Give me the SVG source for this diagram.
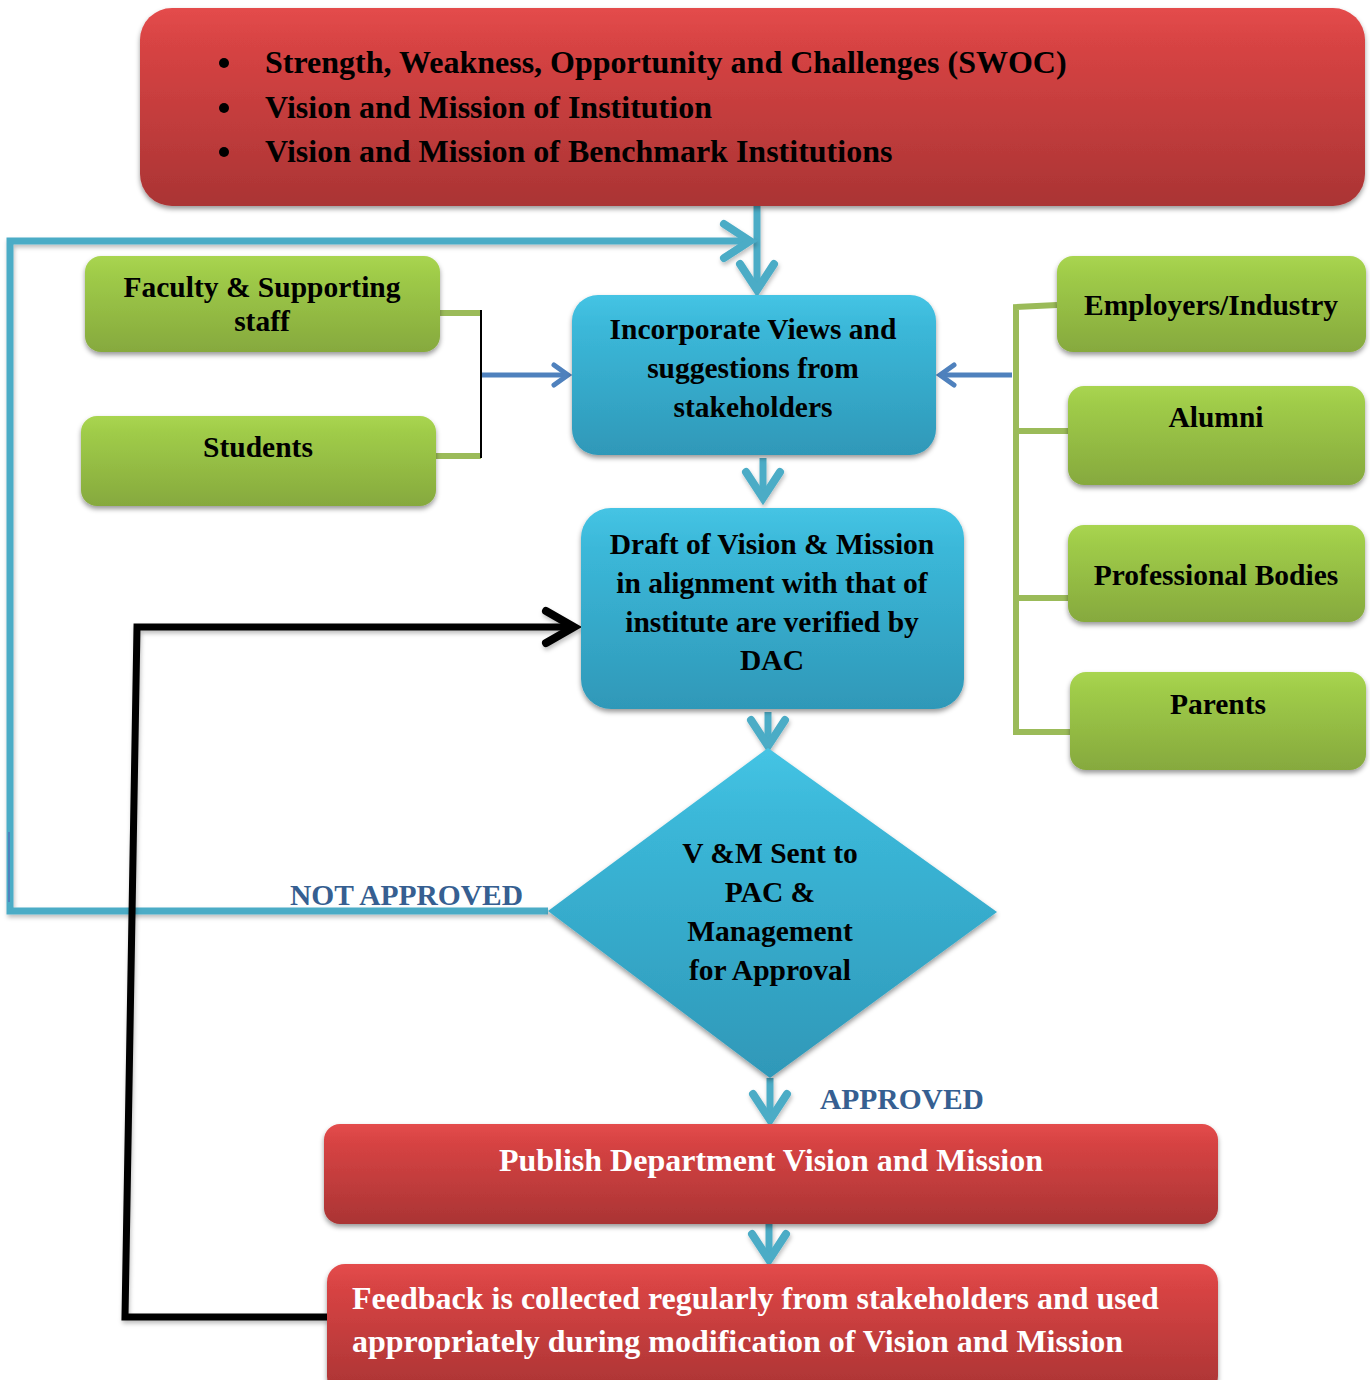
<svg xmlns="http://www.w3.org/2000/svg" width="1370" height="1380" viewBox="0 0 1370 1380">
<style>
.t{font-family:"Liberation Serif","Times New Roman",serif;font-weight:bold;fill:#000}
.w{fill:#fff}
.lbl{font-family:"Liberation Serif","Times New Roman",serif;font-weight:bold;fill:#365f91;font-size:29.5px}
.red{fill:url(#gRed);filter:url(#sh)}
.grn{fill:url(#gGrn);filter:url(#sh)}
.cyn{fill:url(#gCyn);filter:url(#sh)}
.cl{fill:none;stroke:#4bacc6;stroke-width:7;filter:url(#lsh)}
.gl{fill:none;stroke:#9bbb59;stroke-width:6}
</style>
<defs>
<linearGradient id="gRed" x1="0" y1="0" x2="0" y2="1"><stop offset="0" stop-color="#e44c4c"/><stop offset="0.15" stop-color="#d94444"/><stop offset="1" stop-color="#aa3434"/></linearGradient>
<linearGradient id="gGrn" x1="0" y1="0" x2="0" y2="1"><stop offset="0" stop-color="#a9d551"/><stop offset="0.2" stop-color="#9fcb48"/><stop offset="1" stop-color="#86a93e"/></linearGradient>
<linearGradient id="gCyn" x1="0" y1="0" x2="0" y2="1"><stop offset="0" stop-color="#45c4e4"/><stop offset="0.2" stop-color="#3bb8d9"/><stop offset="1" stop-color="#2f98b8"/></linearGradient>
<filter id="sh" x="-5%" y="-5%" width="110%" height="120%"><feDropShadow dx="0" dy="3" stdDeviation="2.5" flood-color="#000" flood-opacity="0.4"/></filter>
<filter id="lsh" filterUnits="userSpaceOnUse" x="0" y="0" width="1370" height="1380"><feDropShadow dx="1" dy="3" stdDeviation="2" flood-color="#000" flood-opacity="0.25"/></filter>
<marker id="ac" markerUnits="userSpaceOnUse" viewBox="-40 -25 50 50" markerWidth="50" markerHeight="50" refX="0" refY="0" orient="auto" overflow="visible"><path d="M-26,-17 L0,0 L-26,17" fill="none" stroke="#4bacc6" stroke-width="8" stroke-linecap="round" stroke-linejoin="miter"/></marker>
<marker id="ab" markerUnits="userSpaceOnUse" viewBox="-40 -25 50 50" markerWidth="50" markerHeight="50" refX="0" refY="0" orient="auto" overflow="visible"><path d="M-14,-10 L0,0 L-14,10" fill="none" stroke="#4f81bd" stroke-width="5" stroke-linecap="round"/></marker>
<marker id="ak" markerUnits="userSpaceOnUse" viewBox="-40 -25 50 50" markerWidth="50" markerHeight="50" refX="0" refY="0" orient="auto" overflow="visible"><path d="M-28,-16 L0,0 L-28,16" fill="none" stroke="#000" stroke-width="8" stroke-linecap="round"/></marker>
</defs>
<rect width="1370" height="1380" fill="#fff"/>

<g id="connectors">
<!-- top box to incorporate -->
<line class="cl" x1="757" y1="206" x2="757" y2="290" marker-end="url(#ac)"/>
<!-- not approved loop -->
<polyline class="cl" points="548,911 10,911 10,241 750,241" marker-end="url(#ac)"/>
<line x1="9" y1="832" x2="9" y2="902" stroke="#4f81bd" stroke-width="2"/>
<!-- left stakeholders -->
<line class="gl" x1="440" y1="313" x2="481" y2="313"/>
<line class="gl" x1="432" y1="456" x2="481" y2="456"/>
<line x1="481" y1="310" x2="481" y2="458" stroke="#000" stroke-width="2"/>
<line x1="482" y1="375" x2="568" y2="375" stroke="#4f81bd" stroke-width="5" marker-end="url(#ab)"/>
<!-- right stakeholders -->
<polyline class="gl" points="1057,305 1016,307 1016,732 1070,732"/>
<line class="gl" x1="1016" y1="431" x2="1068" y2="431"/>
<line class="gl" x1="1016" y1="598" x2="1068" y2="598"/>
<line x1="1012" y1="375" x2="940" y2="375" stroke="#4f81bd" stroke-width="5" marker-end="url(#ab)"/>
<!-- flow -->
<line class="cl" x1="763" y1="458" x2="763" y2="498" marker-end="url(#ac)"/>
<line class="cl" x1="768" y1="712" x2="768" y2="746" marker-end="url(#ac)"/>
<line class="cl" x1="770" y1="1078" x2="770" y2="1120" marker-end="url(#ac)"/>
<line class="cl" x1="769" y1="1222" x2="769" y2="1260" marker-end="url(#ac)"/>
<!-- feedback loop -->
<polyline points="327,1317 125,1317 137,627 574,627" fill="none" stroke="#000" stroke-width="7" filter="url(#lsh)" marker-end="url(#ak)"/>
<text class="lbl" x="290" y="905">NOT APPROVED</text>
<text class="lbl" x="820" y="1109">APPROVED</text>
</g>

<g id="inputs">
<rect class="red" x="140" y="8" width="1225" height="198" rx="32"/>
<g class="t" font-size="32">
<circle cx="224" cy="63" r="5" fill="#000"/>
<circle cx="224" cy="108" r="5" fill="#000"/>
<circle cx="224" cy="152" r="5" fill="#000"/>
<text x="265" y="73">Strength, Weakness, Opportunity and Challenges (SWOC)</text>
<text x="265" y="118">Vision and Mission of Institution</text>
<text x="265" y="162">Vision and Mission of Benchmark Institutions</text>
</g>
</g>

<g id="faculty">
<rect class="grn" x="85" y="256" width="355" height="96" rx="16"/>
<text class="t" font-size="29.5" text-anchor="middle" x="262" y="297">Faculty &amp; Supporting</text>
<text class="t" font-size="29.5" text-anchor="middle" x="262" y="331">staff</text>
</g>
<g id="students">
<rect class="grn" x="81" y="416" width="355" height="90" rx="16"/>
<text class="t" font-size="29.5" text-anchor="middle" x="258" y="457">Students</text>
</g>

<g id="incorporate">
<rect class="cyn" x="572" y="295" width="364" height="160" rx="26"/>
<g class="t" font-size="29.5" text-anchor="middle">
<text x="753" y="339">Incorporate Views and</text>
<text x="753" y="378">suggestions from</text>
<text x="753" y="417">stakeholders</text>
</g>
</g>

<g id="employers">
<rect class="grn" x="1057" y="256" width="309" height="96" rx="16"/>
<text class="t" font-size="29.5" text-anchor="middle" x="1211" y="315">Employers/Industry</text>
</g>
<g id="alumni">
<rect class="grn" x="1068" y="386" width="297" height="99" rx="16"/>
<text class="t" font-size="29.5" text-anchor="middle" x="1216" y="427">Alumni</text>
</g>
<g id="professional">
<rect class="grn" x="1068" y="525" width="297" height="97" rx="16"/>
<text class="t" font-size="29.5" text-anchor="middle" x="1216" y="585">Professional Bodies</text>
</g>
<g id="parents">
<rect class="grn" x="1070" y="672" width="296" height="98" rx="16"/>
<text class="t" font-size="29.5" text-anchor="middle" x="1218" y="714">Parents</text>
</g>

<g id="draft">
<rect class="cyn" x="581" y="508" width="383" height="201" rx="30"/>
<g class="t" font-size="29.5" text-anchor="middle">
<text x="772" y="554">Draft of Vision &amp; Mission</text>
<text x="772" y="593">in alignment with that of</text>
<text x="772" y="632">institute are verified by</text>
<text x="772" y="670">DAC</text>
</g>
</g>

<g id="decision">
<polygon class="cyn" points="768,748 997,912 770,1078 548,911"/>
<g class="t" font-size="29.5" text-anchor="middle">
<text x="770" y="863">V &amp;M Sent to</text>
<text x="770" y="902">PAC &amp;</text>
<text x="770" y="941">Management</text>
<text x="770" y="980">for Approval</text>
</g>
</g>

<g id="publish">
<rect class="red" x="324" y="1124" width="894" height="100" rx="16"/>
<text class="t w" font-size="32" text-anchor="middle" x="771" y="1171">Publish Department Vision and Mission</text>
</g>

<g id="feedback">
<rect class="red" x="327" y="1264" width="891" height="130" rx="18"/>
<text class="t w" font-size="32" x="352" y="1309">Feedback is collected regularly from stakeholders and used</text>
<text class="t w" font-size="32" x="352" y="1352">appropriately during modification of Vision and Mission</text>
</g>
</svg>
